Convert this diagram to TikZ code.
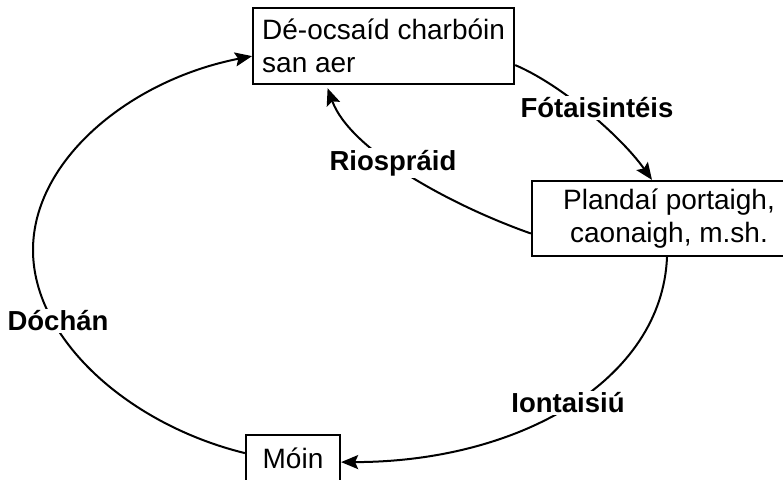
\documentclass[tikz,border=0pt]{standalone}
\usepackage{fontspec}
\setmainfont{Liberation Sans}
\usetikzlibrary{arrows.meta}
\begin{document}
\begin{tikzpicture}[x=1pt,y=-1pt,
  box/.style = {draw, line width=2.2pt, inner sep=0pt, font=\fontsize{28}{33}\selectfont},
  lbl/.style = {fill=white, inner sep=2pt, font=\fontsize{27.5}{33}\selectfont\bfseries},
  arr/.style = {line width=2pt, -{Stealth[length=17pt,width=14pt,inset=3pt]}}]
\useasboundingbox (0,0) rectangle (783,479);
\clip (0,0) rectangle (783,479);
\node[box, anchor=north west, minimum width=261pt, minimum height=76pt, align=left] (co2) at (252,7) {Dé-ocsaíd charbóin\\san aer};
\node[box, minimum width=274pt, minimum height=75pt, align=center] (plant) at (669,218.5) {Plandaí portaigh,\\caonaigh, m.sh.};
\node[box, anchor=north, minimum width=94pt, minimum height=54pt, text height=19pt, text depth=7pt] (moin) at (293,434) {Móin};
\coordinate (dleft) at (33,250);
% the carbon cycle
\draw[arr] ([yshift=-19pt]co2.east) .. controls (560,84) and (620,135) .. ([xshift=-17pt]plant.north);
\draw[arr] ([yshift=-15pt]plant.west) .. controls (450,205) and (350,150) .. ([xshift=-56pt,yshift=-3pt]co2.south);
\draw[arr] ([xshift=-2pt]plant.south) .. controls (662,380) and (520,462) .. (moin.east);
\draw[arr] ([yshift=9pt]moin.west) .. controls (130,425) and (33,340) .. (dleft) .. controls (33,160) and (130,80) .. ([yshift=-10pt]co2.west);
% labels
\node[lbl] (fot) at (597,108) {Fótaisintéis};
\node[lbl] (resp) at (393,163) {Riospráid};
\node[lbl] (iont) at (568,403) {Iontaisiú};
\node[lbl] (doch) at (58,321) {Dóchán};
\end{tikzpicture}
\end{document}
